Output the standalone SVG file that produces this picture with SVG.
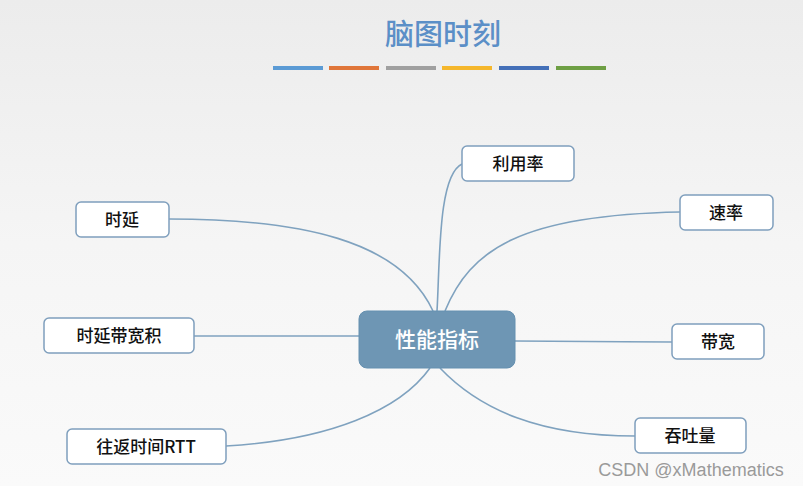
<svg xmlns="http://www.w3.org/2000/svg" width="803" height="486" viewBox="0 0 803 486">
<defs>
<linearGradient id="bg" x1="0" y1="0" x2="0" y2="1">
<stop offset="0" stop-color="#ececec"/>
<stop offset="0.5" stop-color="#f5f5f5"/>
<stop offset="1" stop-color="#fafafa"/>
</linearGradient>
<style>
.node rect{fill:#ffffff;stroke:#7f9fbd;stroke-width:1.5}
.node text{font-family:"Noto Sans CJK SC","Noto Sans",sans-serif;font-size:17px;font-weight:500;fill:#111;text-anchor:middle}
.conn path{fill:none;stroke:#7fa2bf;stroke-width:1.6}
</style>
</defs>
<rect width="803" height="486" fill="url(#bg)"/>
<text x="443" y="45" font-family="Noto Sans CJK SC, sans-serif" font-size="29" font-weight="500" fill="#5b8fc7" text-anchor="middle">脑图时刻</text>
<g id="bars">
<rect x="273" y="66" width="50" height="4" fill="#5b9bd5"/>
<rect x="329" y="66" width="50" height="4" fill="#e0763a"/>
<rect x="386" y="66" width="50" height="4" fill="#a0a0a0"/>
<rect x="442" y="66" width="50" height="4" fill="#f5b72c"/>
<rect x="499" y="66" width="50" height="4" fill="#4470b8"/>
<rect x="556" y="66" width="50" height="4" fill="#6e9f44"/>
</g>
<g class="conn" id="connectors">
<path d="M437,311 C440,260 438,175 462,164"/>
<path d="M445,311 C470,250 520,215 680,212"/>
<path d="M169,219 C300,219 400,240 433,311"/>
<path d="M194,336 L359,336"/>
<path d="M515,341 C580,341 620,342 672,342"/>
<path d="M226,446 C330,440 400,410 430,368"/>
<path d="M440,368 C480,410 540,436 635,436"/>
</g>
<g id="center">
<rect x="359" y="311" width="156" height="57" rx="8" fill="#6e96b4" stroke="#6590b0"/>
<text x="437" y="347" font-family="Noto Sans CJK SC, sans-serif" font-size="21" font-weight="500" fill="#ffffff" text-anchor="middle">性能指标</text>
</g>
<g class="node" id="n-liyonglv"><rect x="462" y="146" width="112" height="35" rx="5"/><text x="518" y="170">利用率</text></g>
<g class="node" id="n-shiyan"><rect x="76" y="202" width="93" height="35" rx="5"/><text x="122" y="226">时延</text></g>
<g class="node" id="n-sulv"><rect x="680" y="195" width="93" height="35" rx="5"/><text x="726" y="219">速率</text></g>
<g class="node" id="n-shiyandaikuanji"><rect x="44" y="318" width="150" height="35" rx="5"/><text x="119" y="342">时延带宽积</text></g>
<g class="node" id="n-daikuan"><rect x="672" y="324" width="92" height="35" rx="5"/><text x="718" y="348">带宽</text></g>
<g class="node" id="n-rtt"><rect x="67" y="429" width="159" height="35" rx="5"/><text x="146" y="453">往返时间RTT</text></g>
<g class="node" id="n-tuntuliang"><rect x="635" y="418" width="111" height="35" rx="5"/><text x="690" y="442">吞吐量</text></g>
<text x="691" y="476" font-family="Liberation Sans, Arial, sans-serif" font-size="18" fill="#9a9a9a" text-anchor="middle">CSDN @xMathematics</text>
</svg>
